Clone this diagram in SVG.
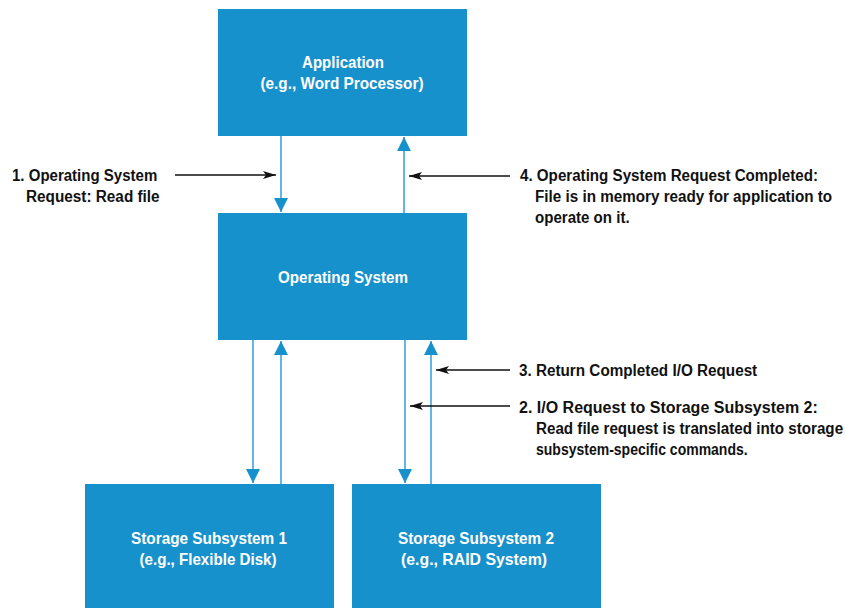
<svg xmlns="http://www.w3.org/2000/svg" width="845" height="608" viewBox="0 0 845 608">
<style>
.box{fill:#1791cb}
.bt{font-family:"Liberation Sans",Arial,sans-serif;font-weight:bold;font-size:17px;fill:#fff;text-anchor:middle}
.lt{font-family:"Liberation Sans",Arial,sans-serif;font-weight:bold;font-size:17px;fill:#111}
.bl{stroke:#3aa5dc;stroke-width:1.6;fill:none}
.kl{stroke:#111;stroke-width:1.3;fill:none}
</style>
<defs>
<marker id="bh" markerWidth="16" markerHeight="14" refX="14" refY="7" orient="auto" markerUnits="userSpaceOnUse">
<path d="M0,0 L14,7 L0,14 Z" fill="#1791cb"/>
</marker>
<marker id="kh" markerWidth="14" markerHeight="8" refX="13" refY="4" orient="auto" markerUnits="userSpaceOnUse">
<path d="M0,0 L13,4 L0,8 L3,4 Z" fill="#111"/>
</marker>
</defs>
<g id="app"><rect class="box" x="218" y="9" width="249" height="127"/>
<text class="bt" x="343" y="68" textLength="82" lengthAdjust="spacingAndGlyphs">Application</text>
<text class="bt" x="342" y="89" textLength="163" lengthAdjust="spacingAndGlyphs">(e.g., Word Processor)</text></g>
<g id="os"><rect class="box" x="218" y="213" width="249" height="127"/>
<text class="bt" x="343" y="283" textLength="130" lengthAdjust="spacingAndGlyphs">Operating System</text></g>
<g id="ss1"><rect class="box" x="85" y="484" width="249" height="124"/>
<text class="bt" x="209" y="544" textLength="156" lengthAdjust="spacingAndGlyphs">Storage Subsystem 1</text>
<text class="bt" x="208" y="565" textLength="137" lengthAdjust="spacingAndGlyphs">(e.g., Flexible Disk)</text></g>
<g id="ss2"><rect class="box" x="352" y="484" width="249" height="124"/>
<text class="bt" x="476" y="544" textLength="156" lengthAdjust="spacingAndGlyphs">Storage Subsystem 2</text>
<text class="bt" x="474" y="565" textLength="146" lengthAdjust="spacingAndGlyphs">(e.g., RAID System)</text></g>
<g id="connectors">
<line class="bl" x1="281" y1="136" x2="281" y2="212" marker-end="url(#bh)"/>
<line class="bl" x1="404" y1="213" x2="404" y2="137" marker-end="url(#bh)"/>
<line class="bl" x1="253" y1="340" x2="253" y2="483" marker-end="url(#bh)"/>
<line class="bl" x1="281" y1="484" x2="281" y2="341" marker-end="url(#bh)"/>
<line class="bl" x1="405" y1="340" x2="405" y2="483" marker-end="url(#bh)"/>
<line class="bl" x1="431" y1="484" x2="431" y2="341" marker-end="url(#bh)"/>
<line class="kl" x1="175" y1="175" x2="276" y2="175" marker-end="url(#kh)"/>
<line class="kl" x1="510" y1="176" x2="409" y2="176" marker-end="url(#kh)"/>
<line class="kl" x1="510" y1="370" x2="436" y2="370" marker-end="url(#kh)"/>
<line class="kl" x1="510" y1="406" x2="410" y2="406" marker-end="url(#kh)"/>
</g>
<g id="labels">
<text class="lt" transform="translate(12,181) scale(0.83,1)" textLength="175" lengthAdjust="spacingAndGlyphs">1. Operating System</text>
<text class="lt" transform="translate(26,202) scale(0.83,1)" textLength="161" lengthAdjust="spacingAndGlyphs">Request: Read file</text>
<text class="lt" transform="translate(520,181) scale(0.83,1)" textLength="359" lengthAdjust="spacingAndGlyphs">4. Operating System Request Completed:</text>
<text class="lt" transform="translate(535,202) scale(0.83,1)" textLength="358" lengthAdjust="spacingAndGlyphs">File is in memory ready for application to</text>
<text class="lt" transform="translate(535,223) scale(0.83,1)" textLength="114" lengthAdjust="spacingAndGlyphs">operate on it.</text>
<text class="lt" transform="translate(519,376) scale(0.83,1)" textLength="287" lengthAdjust="spacingAndGlyphs">3. Return Completed I/O Request</text>
<text class="lt" transform="translate(519,413) scale(0.83,1)" textLength="360" lengthAdjust="spacingAndGlyphs">2. I/O Request to Storage Subsystem 2:</text>
<text class="lt" transform="translate(536,434) scale(0.83,1)" textLength="370" lengthAdjust="spacingAndGlyphs">Read file request is translated into storage</text>
<text class="lt" transform="translate(536,455) scale(0.83,1)" textLength="255" lengthAdjust="spacingAndGlyphs">subsystem-specific commands.</text>
</g>
</svg>
